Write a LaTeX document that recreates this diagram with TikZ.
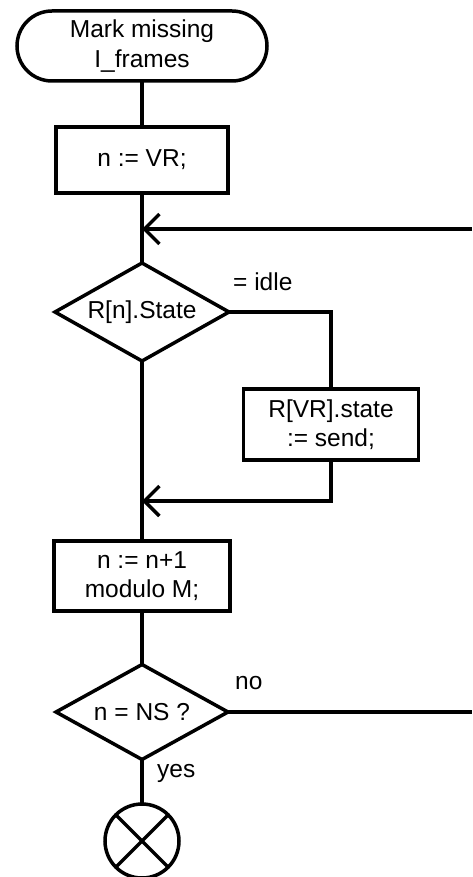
\documentclass[tikz,border=0pt]{standalone}
\usepackage{fontspec}
\setmainfont{Liberation Sans}
\usetikzlibrary{shapes.geometric,arrows.meta}
\tikzset{
  every node/.style={font=\fontsize{24.5}{29.5}\selectfont},
  ln/.style={line width=3.5pt},
  proc/.style={draw,ln,rectangle,inner sep=0pt,outer sep=0pt,align=center},
  term/.style={draw,ln,rectangle,rounded corners=35pt,inner sep=0pt,outer sep=0pt,align=center,minimum width=250pt,minimum height=70pt},
  dec/.style={draw,ln,diamond,inner sep=0pt,outer sep=0pt,aspect=1.75},
  endc/.style={draw,ln,circle,minimum size=74pt,inner sep=0pt,outer sep=0pt},
  arr/.style={ln,-{Straight Barb[length=15pt,width=30pt]}},
  lbl/.style={inner sep=0pt,anchor=west}
}
\begin{document}
\begin{tikzpicture}[x=1pt,y=-1pt]
\useasboundingbox (0,0) rectangle (472,877);
\node[term] (start) at (142,46) {Mark missing\\I\_frames};
\node[proc,minimum width=172pt,minimum height=66pt] (b1) at (142,160) {n := VR;};
\node[dec,minimum width=174pt,minimum height=98pt] (d1) at (142,312) {R[n].State};
\node[proc,minimum width=175pt,minimum height=71pt] (b2) at (331,424.5) {R[VR].state\\:= send;};
\node[proc,minimum width=176pt,minimum height=70pt] (b3) at (142,576) {n := n+1\\modulo M;};
\node[dec,minimum width=172pt,minimum height=95pt] (d2) at (142,712) {n = NS ?};
\node[endc] (stop) at (142,841) {};
\coordinate (j1) at (142,229);
\coordinate (r1) at (472,229);
\coordinate (j2) at (142,501);
\coordinate (r2) at (472,712);

\draw[ln] (start.south) -- (b1.north);
\draw[ln] (b1.south) -- (d1.north);
\draw[arr] (r1) -- (j1);
\draw[ln] (d1.east) -| (b2.north);
\draw[ln] (d1.south) -- (b3.north);
\draw[arr] (b2.south) |- (j2);
\draw[ln] (b3.south) -- (d2.north);
\draw[ln] (d2.east) -- (r2);
\draw[ln] (d2.south) -- (stop.north);
\draw[ln] (stop.north west) -- (stop.south east);
\draw[ln] (stop.north east) -- (stop.south west);

\node[lbl] (l1) at (233,282) {= idle};
\node[lbl] (l2) at (235,683) {no};
\node[lbl] (l3) at (157,773) {yes};
\end{tikzpicture}
\end{document}
